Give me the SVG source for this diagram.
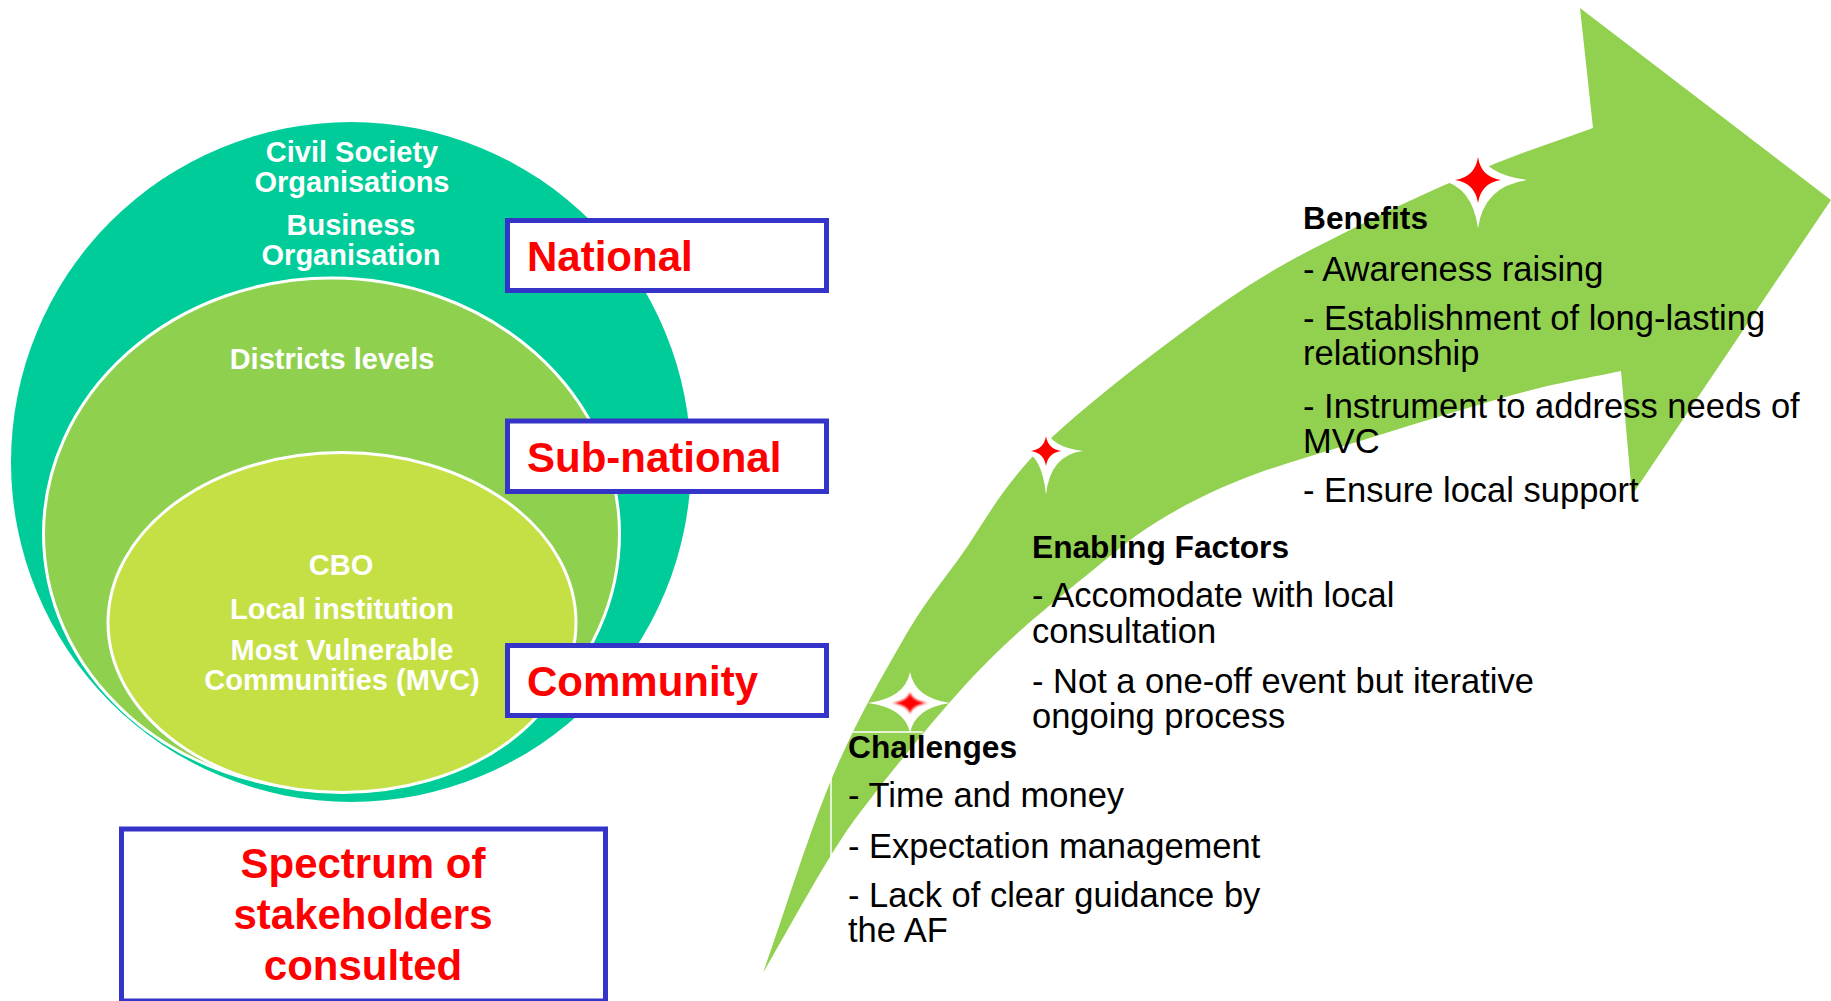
<svg xmlns="http://www.w3.org/2000/svg" width="1831" height="1001" viewBox="0 0 1831 1001">
<style>
.lvl{fill:#fff;font-family:"Liberation Sans",Arial,sans-serif;font-weight:bold;font-size:29px;text-anchor:middle}
.box{fill:#fff;stroke:#3434C8;stroke-width:5}
.lbl{fill:#FF0000;font-family:"Liberation Sans",Arial,sans-serif;font-weight:bold;font-size:42px}
.hd{fill:#000;font-family:"Liberation Sans",Arial,sans-serif;font-weight:bold;font-size:31.7px}
.it{fill:#000;font-family:"Liberation Sans",Arial,sans-serif;font-size:34.5px}
.glow{fill:#fff}
.spark{fill:#FF0000}
</style>
<defs>
<filter id="soft" x="-50%" y="-50%" width="200%" height="200%"><feGaussianBlur stdDeviation="1.2"/></filter>
</defs>
<rect width="1831" height="1001" fill="#fff"/>

<g id="stakeholder-circles">
<circle id="national-circle" cx="351" cy="462" r="340" fill="#00CC99"/>
<ellipse id="subnational-ellipse" cx="331.5" cy="534" rx="288" ry="256" fill="#8FD14F" stroke="#fff" stroke-width="3"/>
<ellipse id="community-ellipse" cx="342" cy="622.5" rx="234" ry="170" fill="#C5E044" stroke="#fff" stroke-width="3"/>
<text class="lvl" x="352" y="162">Civil Society</text>
<text class="lvl" x="352" y="192">Organisations</text>
<text class="lvl" x="351" y="235">Business</text>
<text class="lvl" x="351" y="265">Organisation</text>
<text class="lvl" x="332" y="369">Districts levels</text>
<text class="lvl" x="341" y="575">CBO</text>
<text class="lvl" x="342" y="619">Local institution</text>
<text class="lvl" x="342" y="660">Most Vulnerable</text>
<text class="lvl" x="342" y="690">Communities (MVC)</text>
</g>

<g id="box-national">
<rect class="box" x="507.5" y="220.5" width="319" height="70"/>
<text class="lbl" x="527" y="271">National</text>
</g>
<g id="box-subnational">
<rect class="box" x="507.5" y="421" width="319" height="70.5"/>
<text class="lbl" x="527" y="471.5">Sub-national</text>
</g>
<g id="box-community">
<rect class="box" x="507.5" y="645.5" width="319" height="70"/>
<text class="lbl" x="527" y="696">Community</text>
</g>
<g id="box-spectrum">
<rect class="box" x="121.5" y="829" width="484" height="172"/>
<text class="lbl" x="363" y="878" text-anchor="middle">Spectrum of</text>
<text class="lbl" x="363" y="929" text-anchor="middle">stakeholders</text>
<text class="lbl" x="363" y="980" text-anchor="middle">consulted</text>
</g>

<g id="connectors">
<path id="progress-arrow" fill="#92D050" d="M763,973 C786,908 808.7,833.5 832,778 C855.3,722.5 881.7,676.8 903,640 C924.3,603.2 936.2,589.8 960,557 C983.8,524.2 1001.5,485.8 1046,443 C1090.5,400.2 1174.7,336.3 1227,300 C1279.3,263.7 1316.7,247.2 1360,225 C1403.3,202.8 1448.2,183.2 1487,167 C1525.8,150.8 1557.7,141 1593,128 L1580,8 L1831,200 L1632,495 L1621,371 C1587.3,378.3 1563.5,381.3 1520,393 C1476.5,404.7 1406.7,426.5 1360,441 C1313.3,455.5 1274.2,466.3 1240,480 C1205.8,493.7 1180.5,507.2 1155,523 C1129.5,538.8 1111.2,555.5 1087,575 C1062.8,594.5 1032.8,618.8 1010,640 C987.2,661.2 972.5,676.5 950,702 C927.5,727.5 895,767.2 875,793 C855,818.8 848.7,827 830,857 C811.3,887 785.3,934.3 763,973 Z"/>
<line x1="831" y1="778" x2="831" y2="857" stroke="#fff" stroke-width="1.5"/>
<line x1="853" y1="732" x2="923" y2="732" stroke="#fff" stroke-width="1.5"/>
</g>

<g id="star-benefits">
<path class="glow" d="M1478,150 Q1484,174 1527,180 Q1484,186 1478,228 Q1472,186 1440,180 Q1472,174 1478,150 Z"/>
<path class="spark" d="M1478,157 Q1481,177 1501,180 Q1481,183 1478,203 Q1475,183 1455,180 Q1475,177 1478,157 Z"/>
</g>
<g id="star-enabling">
<path class="glow" d="M1046,428 Q1050,447 1083,451 Q1050,455 1046,495 Q1042,455 1023,451 Q1042,447 1046,428 Z"/>
<path class="spark" d="M1046,436 Q1048,449 1061,451 Q1048,453 1046,466 Q1044,453 1031,451 Q1044,449 1046,436 Z"/>
</g>
<g id="star-challenges">
<path class="glow" d="M910,672 Q915,698 950,703 Q915,708 910,733 Q905,708 868,703 Q905,698 910,672 Z"/>
<path class="spark" filter="url(#soft)" d="M910,692 Q912,701 928,703 Q912,705 910,714 Q908,705 892,703 Q908,701 910,692 Z"/>
</g>

<g id="benefits">
<text class="hd" x="1303" y="229">Benefits</text>
<text class="it" x="1303" y="281">- Awareness raising</text>
<text class="it" x="1303" y="330">- Establishment of long-lasting</text>
<text class="it" x="1303" y="365">relationship</text>
<text class="it" x="1303" y="418">- Instrument to address needs of</text>
<text class="it" x="1303" y="453">MVC</text>
<text class="it" x="1303" y="502">- Ensure local support</text>
</g>
<g id="enabling-factors">
<text class="hd" x="1032" y="558">Enabling Factors</text>
<text class="it" x="1032" y="607">- Accomodate with local</text>
<text class="it" x="1032" y="643">consultation</text>
<text class="it" x="1032" y="693">- Not a one-off event but iterative</text>
<text class="it" x="1032" y="728">ongoing process</text>
</g>
<g id="challenges">
<text class="hd" x="848" y="758">Challenges</text>
<text class="it" x="848" y="807">- Time and money</text>
<text class="it" x="848" y="858">- Expectation management</text>
<text class="it" x="848" y="907">- Lack of clear guidance by</text>
<text class="it" x="848" y="942">the AF</text>
</g>
</svg>
